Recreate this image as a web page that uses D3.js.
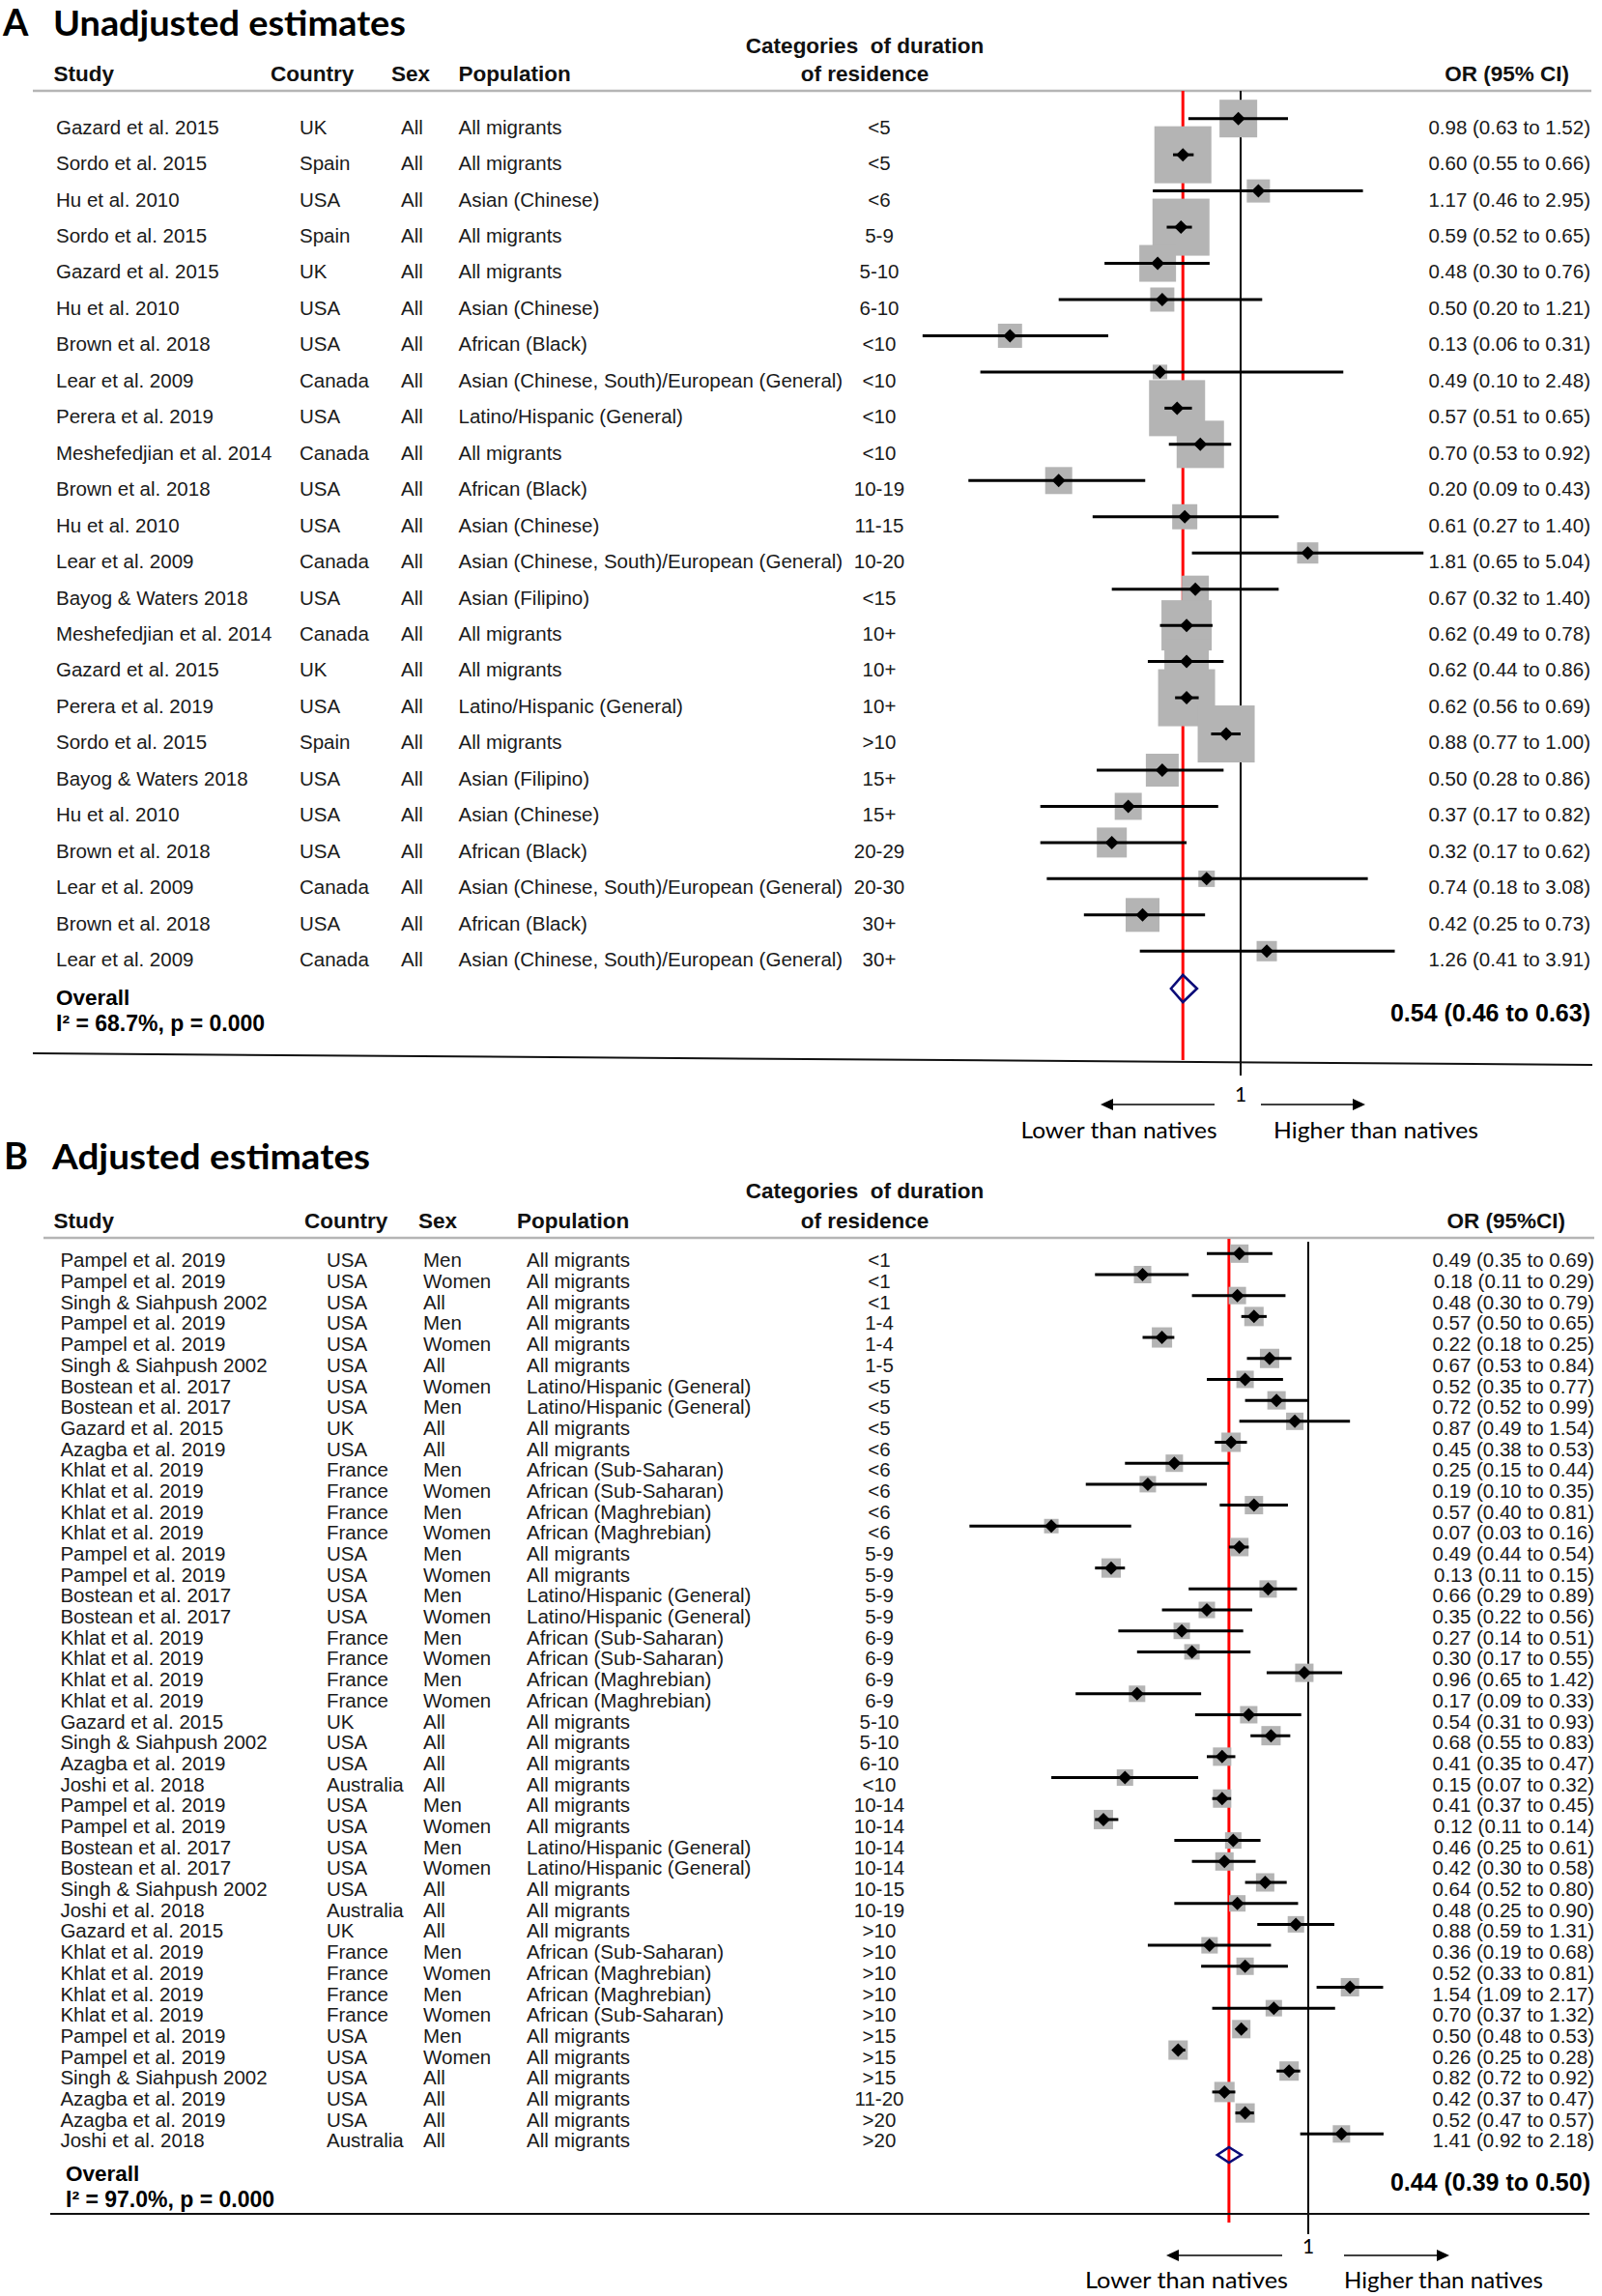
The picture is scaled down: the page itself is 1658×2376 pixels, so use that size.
<!DOCTYPE html>
<html>
<head>
<meta charset="utf-8">
<script src="https://cdn.jsdelivr.net/npm/d3@7"></script>
<style>
  body { margin: 0; background: #fff; }
</style>
</head>
<body>
<div id="chart"></div>
<script>
// ---- Panel A: unadjusted estimates ----
const studiesA = ["Gazard et al. 2015", "Sordo et al. 2015", "Hu et al. 2010", "Sordo et al. 2015", "Gazard et al. 2015",
  "Hu et al. 2010", "Brown et al. 2018", "Lear et al. 2009", "Perera et al. 2019", "Meshefedjian et al. 2014",
  "Brown et al. 2018", "Hu et al. 2010", "Lear et al. 2009", "Bayog & Waters 2018", "Meshefedjian et al. 2014",
  "Gazard et al. 2015", "Perera et al. 2019", "Sordo et al. 2015", "Bayog & Waters 2018", "Hu et al. 2010",
  "Brown et al. 2018", "Lear et al. 2009", "Brown et al. 2018", "Lear et al. 2009"];
const countriesA = ["UK", "Spain", "USA", "Spain", "UK", "USA", "USA", "Canada", "USA", "Canada", "USA", "USA",
  "Canada", "USA", "Canada", "UK", "USA", "Spain", "USA", "USA", "USA", "Canada", "USA", "Canada"];
const sexA = Array(24).fill("All");
const popA = ["All migrants", "All migrants", "Asian (Chinese)", "All migrants", "All migrants", "Asian (Chinese)",
  "African (Black)", "Asian (Chinese, South)/European (General)", "Latino/Hispanic (General)", "All migrants",
  "African (Black)", "Asian (Chinese)", "Asian (Chinese, South)/European (General)", "Asian (Filipino)",
  "All migrants", "All migrants", "Latino/Hispanic (General)", "All migrants", "Asian (Filipino)",
  "Asian (Chinese)", "African (Black)", "Asian (Chinese, South)/European (General)", "African (Black)",
  "Asian (Chinese, South)/European (General)"];
const durA = ["<5", "<5", "<6", "5-9", "5-10", "6-10", "<10", "<10", "<10", "<10", "10-19", "11-15", "10-20",
  "<15", "10+", "10+", "10+", ">10", "15+", "15+", "20-29", "20-30", "30+", "30+"];
const orA = [0.98, 0.60, 1.17, 0.59, 0.48, 0.50, 0.13, 0.49, 0.57, 0.70, 0.20, 0.61, 1.81, 0.67, 0.62, 0.62,
  0.62, 0.88, 0.50, 0.37, 0.32, 0.74, 0.42, 1.26];
const loA = [0.63, 0.55, 0.46, 0.52, 0.30, 0.20, 0.06, 0.10, 0.51, 0.53, 0.09, 0.27, 0.65, 0.32, 0.49, 0.44,
  0.56, 0.77, 0.28, 0.17, 0.17, 0.18, 0.25, 0.41];
const hiA = [1.52, 0.66, 2.95, 0.65, 0.76, 1.21, 0.31, 2.48, 0.65, 0.92, 0.43, 1.40, 5.04, 1.40, 0.78, 0.86,
  0.69, 1.00, 0.86, 0.82, 0.62, 3.08, 0.73, 3.91];
// study weights (%)
const weightA = [4.10, 9.38, 1.55, 9.38, 3.89, 1.68, 1.68, 0.61, 9.07, 6.47, 2.11, 1.82, 1.30, 2.11, 7.29, 5.70,
  9.38, 9.38, 3.12, 2.11, 2.59, 0.78, 3.30, 1.19];
const pooledTextA = "0.54 (0.46 to 0.63)";
const hetA = "I\u00B2 = 68.7%, p = 0.000";
// pooled diamond as it is drawn in the figure: [low, mid, high]
const pooledMarkA = [0.54, 0.60, 0.68];

// ---- Panel B: adjusted estimates ----
const studiesB = ["Pampel et al. 2019", "Pampel et al. 2019", "Singh & Siahpush 2002", "Pampel et al. 2019",
  "Pampel et al. 2019", "Singh & Siahpush 2002", "Bostean et al. 2017", "Bostean et al. 2017", "Gazard et al. 2015",
  "Azagba et al. 2019", "Khlat et al. 2019", "Khlat et al. 2019", "Khlat et al. 2019", "Khlat et al. 2019",
  "Pampel et al. 2019", "Pampel et al. 2019", "Bostean et al. 2017", "Bostean et al. 2017", "Khlat et al. 2019",
  "Khlat et al. 2019", "Khlat et al. 2019", "Khlat et al. 2019", "Gazard et al. 2015", "Singh & Siahpush 2002",
  "Azagba et al. 2019", "Joshi et al. 2018", "Pampel et al. 2019", "Pampel et al. 2019", "Bostean et al. 2017",
  "Bostean et al. 2017", "Singh & Siahpush 2002", "Joshi et al. 2018", "Gazard et al. 2015", "Khlat et al. 2019",
  "Khlat et al. 2019", "Khlat et al. 2019", "Khlat et al. 2019", "Pampel et al. 2019", "Pampel et al. 2019",
  "Singh & Siahpush 2002", "Azagba et al. 2019", "Azagba et al. 2019", "Joshi et al. 2018"];
const countriesB = ["USA", "USA", "USA", "USA", "USA", "USA", "USA", "USA", "UK", "USA", "France", "France",
  "France", "France", "USA", "USA", "USA", "USA", "France", "France", "France", "France", "UK", "USA", "USA",
  "Australia", "USA", "USA", "USA", "USA", "USA", "Australia", "UK", "France", "France", "France", "France",
  "USA", "USA", "USA", "USA", "USA", "Australia"];
const sexB = ["Men", "Women", "All", "Men", "Women", "All", "Women", "Men", "All", "All", "Men", "Women", "Men",
  "Women", "Men", "Women", "Men", "Women", "Men", "Women", "Men", "Women", "All", "All", "All", "All", "Men",
  "Women", "Men", "Women", "All", "All", "All", "Men", "Women", "Men", "Women", "Men", "Women", "All", "All",
  "All", "All"];
const popB = ["All migrants", "All migrants", "All migrants", "All migrants", "All migrants", "All migrants",
  "Latino/Hispanic (General)", "Latino/Hispanic (General)", "All migrants", "All migrants",
  "African (Sub-Saharan)", "African (Sub-Saharan)", "African (Maghrebian)", "African (Maghrebian)",
  "All migrants", "All migrants", "Latino/Hispanic (General)", "Latino/Hispanic (General)",
  "African (Sub-Saharan)", "African (Sub-Saharan)", "African (Maghrebian)", "African (Maghrebian)",
  "All migrants", "All migrants", "All migrants", "All migrants", "All migrants", "All migrants",
  "Latino/Hispanic (General)", "Latino/Hispanic (General)", "All migrants", "All migrants", "All migrants",
  "African (Sub-Saharan)", "African (Maghrebian)", "African (Maghrebian)", "African (Sub-Saharan)",
  "All migrants", "All migrants", "All migrants", "All migrants", "All migrants", "All migrants"];
const durB = ["<1", "<1", "<1", "1-4", "1-4", "1-5", "<5", "<5", "<5", "<6", "<6", "<6", "<6", "<6", "5-9", "5-9",
  "5-9", "5-9", "6-9", "6-9", "6-9", "6-9", "5-10", "5-10", "6-10", "<10", "10-14", "10-14", "10-14", "10-14",
  "10-15", "10-19", ">10", ">10", ">10", ">10", ">10", ">15", ">15", ">15", "11-20", ">20", ">20"];
const orB = [0.49, 0.18, 0.48, 0.57, 0.22, 0.67, 0.52, 0.72, 0.87, 0.45, 0.25, 0.19, 0.57, 0.07, 0.49, 0.13,
  0.66, 0.35, 0.27, 0.30, 0.96, 0.17, 0.54, 0.68, 0.41, 0.15, 0.41, 0.12, 0.46, 0.42, 0.64, 0.48, 0.88, 0.36,
  0.52, 1.54, 0.70, 0.50, 0.26, 0.82, 0.42, 0.52, 1.41];
const loB = [0.35, 0.11, 0.30, 0.50, 0.18, 0.53, 0.35, 0.52, 0.49, 0.38, 0.15, 0.10, 0.40, 0.03, 0.44, 0.11,
  0.29, 0.22, 0.14, 0.17, 0.65, 0.09, 0.31, 0.55, 0.35, 0.07, 0.37, 0.11, 0.25, 0.30, 0.52, 0.25, 0.59, 0.19,
  0.33, 1.09, 0.37, 0.48, 0.25, 0.72, 0.37, 0.47, 0.92];
const hiB = [0.69, 0.29, 0.79, 0.65, 0.25, 0.84, 0.77, 0.99, 1.54, 0.53, 0.44, 0.35, 0.81, 0.16, 0.54, 0.15,
  0.89, 0.56, 0.51, 0.55, 1.42, 0.33, 0.93, 0.83, 0.47, 0.32, 0.45, 0.14, 0.61, 0.58, 0.80, 0.90, 1.31, 0.68,
  0.81, 2.17, 1.32, 0.53, 0.28, 0.92, 0.47, 0.57, 2.18];
const weightB = [2.41, 2.16, 2.16, 2.67, 2.94, 2.67, 2.16, 2.41, 2.16, 2.67, 2.16, 1.93, 2.41, 1.50, 2.41, 2.67,
  2.16, 1.93, 1.93, 1.71, 2.41, 1.93, 2.16, 2.67, 2.41, 1.93, 2.41, 2.67, 1.93, 2.41, 2.41, 1.93, 1.93, 1.93,
  2.16, 2.41, 1.93, 2.41, 2.67, 2.67, 2.94, 2.67, 2.16];
const pooledTextB = "0.44 (0.39 to 0.50)";
const hetB = "I\u00B2 = 97.0%, p = 0.000";
const pooledMarkB = [0.39, 0.44, 0.50];

const W = 1658, H = 2376;
const bodyFont = "'Liberation Sans', Arial, sans-serif";
const titleFont = "Lato, 'Open Sans', sans-serif";

const svg = d3.select("#chart")
  .append("svg")
  .attr("width", W)
  .attr("height", H)
  .attr("font-family", bodyFont)
  .style("font-family", bodyFont);

function drawPanel(p) {
  const g = svg.append("g");
  const n = p.study.length;
  const idx = d3.range(n);

  // log scale: pxPerLn pixels per natural-log unit, 1 at x1
  const x = d3.scaleLog().domain([1, Math.E]).range([p.x1, p.x1 + p.pxPerLn]);
  const y = d3.scaleLinear().domain([0, n - 1]).range([p.row0, p.row0 + (n - 1) * p.rowStep]);
  const box = d3.scaleSqrt().domain([0, d3.max(p.weight)]).range([0, p.maxBox]);

  // panel title
  g.append("text").attr("x", p.letterX).attr("y", p.titleBase)
    .attr("font-family", titleFont).attr("font-weight", 700).attr("font-size", 38)
    .text(p.letter);
  g.append("text").attr("x", p.titleX).attr("y", p.titleBase)
    .attr("font-family", titleFont).attr("font-weight", 700).attr("font-size", 37)
    .attr("textLength", p.titleLen).attr("lengthAdjust", "spacingAndGlyphs")
    .text(p.title);

  // column headers
  const hdr = g.append("g").attr("font-weight", 700).attr("font-size", 22.5).attr("fill", "#111");
  hdr.append("text").attr("x", p.hdr.study).attr("y", p.hdrBase).text("Study");
  hdr.append("text").attr("x", p.hdr.country).attr("y", p.hdrBase).text("Country");
  hdr.append("text").attr("x", p.hdr.sex).attr("y", p.hdrBase).text("Sex");
  hdr.append("text").attr("x", p.hdr.pop).attr("y", p.hdrBase).text("Population");
  hdr.append("text").attr("x", p.hdr.cat).attr("y", p.catBase).attr("text-anchor", "middle")
    .attr("xml:space", "preserve").text("Categories  of duration");
  hdr.append("text").attr("x", p.hdr.cat).attr("y", p.hdrBase).attr("text-anchor", "middle")
    .text("of residence");
  hdr.append("text").attr("x", p.hdr.orRight).attr("y", p.hdrBase).attr("text-anchor", "end")
    .text(p.orHeader);

  g.append("line")
    .attr("x1", p.hdrLine[0]).attr("x2", p.hdrLine[1])
    .attr("y1", p.hdrLineY).attr("y2", p.hdrLineY)
    .attr("stroke", "#b5b5b5").attr("stroke-width", 2.5);

  // reference lines: pooled estimate (red) and null value 1 (black)
  g.append("line")
    .attr("x1", x(p.pooled[1])).attr("x2", x(p.pooled[1]))
    .attr("y1", p.red[0]).attr("y2", p.red[1])
    .attr("stroke", "#ff0000").attr("stroke-width", 3);
  g.append("line")
    .attr("x1", x(1)).attr("x2", x(1))
    .attr("y1", p.black[0]).attr("y2", p.black[1])
    .attr("stroke", "#000").attr("stroke-width", 2);

  // weight squares
  g.append("g").selectAll("rect")
    .data(idx)
    .enter()
    .append("rect")
    .attr("x", i => x(p.or[i]) - box(p.weight[i]) / 2)
    .attr("y", i => y(i) - box(p.weight[i]) / 2)
    .attr("width", i => box(p.weight[i]))
    .attr("height", i => box(p.weight[i]))
    .attr("fill", "#b4b4b4");

  // confidence intervals
  g.append("g").selectAll("line")
    .data(idx)
    .enter()
    .append("line")
    .attr("x1", i => x(p.lo[i]))
    .attr("x2", i => x(p.hi[i]))
    .attr("y1", i => y(i))
    .attr("y2", i => y(i))
    .attr("stroke", "#000")
    .attr("stroke-width", 3);

  // point estimates
  const m = p.markHalf;
  g.append("g").selectAll("path")
    .data(idx)
    .enter()
    .append("path")
    .attr("d", i => {
      const cx = x(p.or[i]), cy = y(i);
      return `M${cx - m},${cy}L${cx},${cy - m}L${cx + m},${cy}L${cx},${cy + m}Z`;
    })
    .attr("fill", "#000");

  // row labels
  const rows = g.append("g").attr("font-size", p.fs).attr("fill", "#1a1a1a");
  const cols = [
    ["study", p.study, "start"], ["country", p.country, "start"], ["sex", p.sex, "start"],
    ["pop", p.pop, "start"], ["dur", p.dur, "middle"]
  ];
  cols.forEach(([key, arr, anchor]) => {
    rows.append("g").selectAll("text")
      .data(idx)
      .enter()
      .append("text")
      .attr("x", p.col[key])
      .attr("y", i => y(i) + p.textOff + p.fs * 0.36)
      .attr("text-anchor", anchor)
      .text(i => arr[i]);
  });
  rows.append("g").selectAll("text")
    .data(idx)
    .enter()
    .append("text")
    .attr("x", p.col.orRight)
    .attr("y", i => y(i) + p.textOff + p.fs * 0.36)
    .attr("text-anchor", "end")
    .text(i => `${p.or[i].toFixed(2)} (${p.lo[i].toFixed(2)} to ${p.hi[i].toFixed(2)})`);

  // overall
  g.append("text").attr("x", p.overallX).attr("y", p.overallBase)
    .attr("font-weight", 700).attr("font-size", 22.5).text("Overall");
  g.append("text").attr("x", p.overallX).attr("y", p.hetBase)
    .attr("font-weight", 700).attr("font-size", 23).text(p.het);
  g.append("text").attr("x", p.pooledRight).attr("y", p.pooledBase)
    .attr("text-anchor", "end").attr("font-weight", 700).attr("font-size", 25)
    .text(p.pooledText);

  const [pl, pm, ph] = p.pooled.map(v => x(v));
  const hh = p.pooledH / 2;
  g.append("path")
    .attr("d", `M${pl},${p.pooledY}L${pm},${p.pooledY - hh}L${ph},${p.pooledY}L${pm},${p.pooledY + hh}Z`)
    .attr("fill", "none")
    .attr("stroke", "#0b0b78")
    .attr("stroke-width", 2.6);

  // bottom rule
  g.append("line")
    .attr("x1", p.bottom[0]).attr("y1", p.bottom[1])
    .attr("x2", p.bottom[2]).attr("y2", p.bottom[3])
    .attr("stroke", "#111").attr("stroke-width", 2);

  // axis tick "1", arrows and captions
  g.append("text").attr("x", x(1)).attr("y", p.oneBase)
    .attr("text-anchor", "middle").attr("font-family", titleFont).attr("font-size", 21)
    .text("1");

  const arrow = (from, to) => {
    const dir = Math.sign(to - from);
    g.append("line")
      .attr("x1", from).attr("x2", to - dir * 10)
      .attr("y1", p.arrowY).attr("y2", p.arrowY)
      .attr("stroke", "#000").attr("stroke-width", 1.5);
    g.append("path")
      .attr("d", `M${to},${p.arrowY}L${to - dir * 13},${p.arrowY - 6}L${to - dir * 13},${p.arrowY + 6}Z`)
      .attr("fill", "#000");
  };
  arrow(p.arrowL[0], p.arrowL[1]);
  arrow(p.arrowR[0], p.arrowR[1]);

  g.append("text").attr("x", p.lowX).attr("y", p.capBase)
    .attr("text-anchor", "middle").attr("font-family", titleFont).attr("font-size", 23)
    .attr("textLength", p.lowLen).attr("lengthAdjust", "spacingAndGlyphs")
    .text("Lower than natives");
  g.append("text").attr("x", p.highX).attr("y", p.capBase)
    .attr("text-anchor", "middle").attr("font-family", titleFont).attr("font-size", 23)
    .attr("textLength", p.highLen).attr("lengthAdjust", "spacingAndGlyphs")
    .text("Higher than natives");
}

drawPanel({
  study: studiesA, country: countriesA, sex: sexA, pop: popA, dur: durA,
  or: orA, lo: loA, hi: hiA, weight: weightA,
  letter: "A", title: "Unadjusted estimates", letterX: 3, titleX: 55, titleBase: 37, titleLen: 365,
  hdr: { study: 55.5, country: 280, sex: 405, pop: 474.5, cat: 895, orRight: 1624 },
  orHeader: "OR (95% CI)", catBase: 55, hdrBase: 84,
  hdrLine: [34, 1647], hdrLineY: 94,
  col: { study: 58, country: 310, sex: 415, pop: 474.5, dur: 910, orRight: 1646 },
  x1: 1284, pxPerLn: 117,
  row0: 122.7, rowStep: 37.46, textOff: 8.5, fs: 20.5,
  maxBox: 59, markHalf: 7,
  pooled: pooledMarkA, pooledY: 1023, pooledH: 28,
  red: [94, 1097], black: [94, 1113],
  overallX: 58, overallBase: 1040, hetBase: 1067, het: hetA,
  pooledText: pooledTextA, pooledRight: 1646, pooledBase: 1057,
  bottom: [34, 1090, 1648, 1102],
  oneBase: 1140, arrowY: 1143, arrowL: [1257, 1139], arrowR: [1305, 1413],
  lowX: 1158, highX: 1424, capBase: 1178, lowLen: 203, highLen: 212
});

drawPanel({
  study: studiesB, country: countriesB, sex: sexB, pop: popB, dur: durB,
  or: orB, lo: loB, hi: hiB, weight: weightB,
  letter: "B", title: "Adjusted estimates", letterX: 4, titleX: 54, titleBase: 1210, titleLen: 329,
  hdr: { study: 55.5, country: 315, sex: 433, pop: 535, cat: 895, orRight: 1620 },
  orHeader: "OR (95%CI)", catBase: 1240, hdrBase: 1271,
  hdrLine: [45, 1650], hdrLineY: 1281,
  col: { study: 62.4, country: 338, sex: 438, pop: 545, dur: 910, orRight: 1650 },
  x1: 1354, pxPerLn: 100,
  row0: 1297.3, rowStep: 21.69, textOff: 6.7, fs: 20.5,
  maxBox: 21, markHalf: 7,
  pooled: pooledMarkB, pooledY: 2230, pooledH: 16,
  red: [1282, 2300], black: [1285, 2312],
  overallX: 68, overallBase: 2257, hetBase: 2284, het: hetB,
  pooledText: pooledTextB, pooledRight: 1646, pooledBase: 2267,
  bottom: [52, 2291, 1645, 2291],
  oneBase: 2332, arrowY: 2334, arrowL: [1327, 1207], arrowR: [1391, 1500],
  lowX: 1228, highX: 1494, capBase: 2368, lowLen: 210, highLen: 206
});
</script>
</body>
</html>
